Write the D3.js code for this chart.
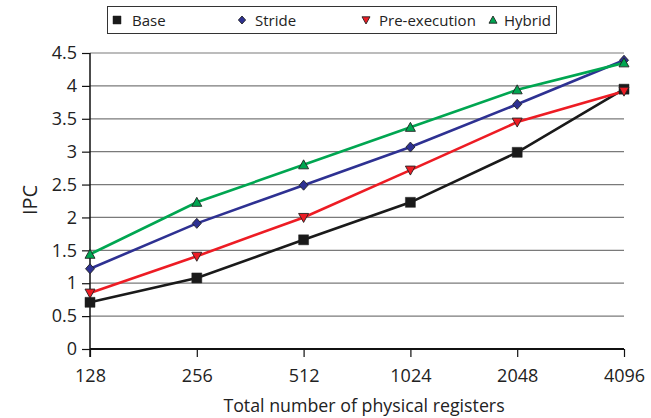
<!DOCTYPE html>
<html><head><meta charset="utf-8">
<script src="https://cdn.jsdelivr.net/npm/d3@7/dist/d3.min.js"></script>
<style>body{margin:0;background:#fff}svg{display:block}text{font-family:"Open Sans","DejaVu Sans",sans-serif;fill:#222}</style>
</head><body><svg id="c" width="651" height="418"></svg>
<script>
const categories = ["128","256","512","1024","2048","4096"];
const seriesNames = ["Base","Stride","Pre-execution","Hybrid"];
const base = [0.71,1.08,1.66,2.23,2.99,3.95];
const stride = [1.22,1.91,2.49,3.07,3.72,4.39];
const preexec = [0.85,1.41,2.00,2.72,3.45,3.92];
const hybrid = [1.44,2.23,2.80,3.37,3.94,4.35];
const yTicks = [0,0.5,1,1.5,2,2.5,3,3.5,4,4.5];
const yTickLabels = ["0","0.5","1","1.5","2","2.5","3","3.5","4","4.5"];

const colors = ["#1a1a1a","#2e3192","#ed1c24","#00a651"];
const symbols = ["square","diamond","tridown","triup"];
const data = [base,stride,preexec,hybrid];

const svg = d3.select("#c");
const x = d3.scalePoint().domain(categories).range([90,624]);
const y = d3.scaleLinear().domain([0,4.5]).range([349,53]);

// grid
svg.append("g").selectAll("line").data(yTicks.filter(d=>d>0)).join("line")
  .attr("x1",90).attr("x2",624).attr("y1",d=>y(d)).attr("y2",d=>y(d))
  .attr("stroke","#7a7a7a").attr("stroke-width",1.2);

const ff = "'Open Sans','DejaVu Sans',sans-serif";
// y axis
const ya = svg.append("g").attr("transform","translate(90,0)")
  .call(d3.axisLeft(y).tickValues(yTicks).tickFormat((d,i)=>yTickLabels[i]).tickSize(8).tickPadding(5));
ya.select(".domain").attr("stroke","#111").attr("stroke-width",1.5).attr("d","M0,53V357");
ya.selectAll(".tick line").attr("stroke","#111").attr("stroke-width",1.2);
ya.selectAll(".tick text").attr("font-size",18).style("font-family",ff).attr("fill","#222");

// x axis
const xa = svg.append("g").attr("transform","translate(0,349)")
  .call(d3.axisBottom(x).tickSize(8).tickPadding(12));
xa.select(".domain").attr("stroke","#111").attr("stroke-width",2.2).attr("d","M90,0H624");
xa.selectAll(".tick line").attr("stroke","#111").attr("stroke-width",1.2);
xa.selectAll(".tick text").attr("font-size",18).style("font-family",ff).attr("fill","#222");

// titles
svg.append("text").attr("x",364).attr("y",412).attr("text-anchor","middle").attr("font-size",17.8).text("Total number of physical registers");
svg.append("text").attr("transform","translate(37,200) rotate(-90)").attr("text-anchor","middle").attr("font-size",20).text("IPC");

function marker(g, type, cx, cy, color, s){
  s = s || 5;
  let p;
  if(type==="square"){ p = `M${cx-s},${cy-s}h${2*s}v${2*s}h${-2*s}z`; }
  else if(type==="diamond"){ p = `M${cx},${cy-s}L${cx+s*0.9},${cy}L${cx},${cy+s}L${cx-s*0.9},${cy}Z`; }
  else if(type==="tridown"){ p = `M${cx-s},${cy-s*0.8}L${cx+s},${cy-s*0.8}L${cx},${cy+s}Z`; }
  else { p = `M${cx-s},${cy+s*0.8}L${cx+s},${cy+s*0.8}L${cx},${cy-s}Z`; }
  g.append("path").attr("d",p).attr("fill",color).attr("stroke","#222").attr("stroke-width",type==="square"?0.5:0.9);
}

const line = d3.line().x((d,i)=>x(categories[i])).y(d=>y(d));
data.forEach((vals,si)=>{
  svg.append("path").datum(vals).attr("d",line).attr("fill","none")
    .attr("stroke",colors[si]).attr("stroke-width",2.6);
});
data.forEach((vals,si)=>{
  const g = svg.append("g");
  vals.forEach((v,i)=>marker(g,symbols[si],x(categories[i]),y(v),colors[si]));
});

// legend
const lg = svg.append("g");
lg.append("rect").attr("x",107.5).attr("y",6.5).attr("width",449).attr("height",27).attr("fill","#fff").attr("stroke","#333").attr("stroke-width",1);
const legPos = [[117,132],[242,255],[366,379],[493,504]];
seriesNames.forEach((n,i)=>{
  marker(lg,symbols[i],legPos[i][0],20,colors[i],4);
  lg.append("text").attr("x",legPos[i][1]).attr("y",25.5).attr("font-size",15).text(n);
});
</script></body></html>
